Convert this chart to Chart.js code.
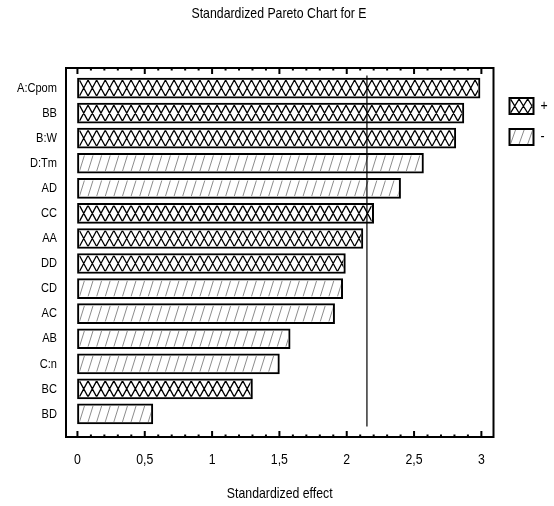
<!DOCTYPE html>
<html>
<head>
<meta charset="utf-8">
<script src="https://cdn.jsdelivr.net/npm/chart.js@4.4.1/dist/chart.umd.min.js"></script>
<style>
  html, body { margin: 0; padding: 0; background: #fff; }
  #wrap { width: 554px; height: 506px; }
</style>
</head>
<body>
<div id="wrap"><canvas id="myChart"></canvas></div>
<script>
// effects (top to bottom)
var factors = ['A:Cpom','BB','B:W','D:Tm','AD','CC','AA','DD','CD','AC','AB','C:n','BC','BD'];
var effects = [2.99, 2.87, 2.81, 2.57, 2.40, 2.20, 2.12, 1.99, 1.97, 1.91, 1.58, 1.50, 1.30, 0.56];
var signs   = ['+','+','+','-','-','+','+','+','-','-','-','-','+','-'];
var xTicks  = [0, 0.5, 1, 1.5, 2, 2.5, 3];
var critical = 2.15;   // reference line

var FONT = "'Liberation Sans', Arial, sans-serif";
var NARROW = 0.82;  // squeeze text, the original uses a condensed face

function pointsFor(sign){
    var out = [];
    for (var i = 0; i < factors.length; i++) {
        if (signs[i] === sign) out.push({x: effects[i], y: i});
    }
    return out;
}

// hatch fills, '+' is a cross hatch, '-' is a light diagonal
function hatch(ctx, kind, l, t, r, b){
    var P = 8.6;
    ctx.save();
    ctx.beginPath();
    ctx.rect(l, t, r - l, b - t);
    ctx.clip();
    ctx.beginPath();
    if (kind === '+') {
        ctx.strokeStyle = '#000';
        ctx.lineWidth = 1.3;
        for (var x = l - P; x < r + P; x += P) {
            ctx.moveTo(x, t); ctx.lineTo(x + P, b);
            ctx.moveTo(x + P, t); ctx.lineTo(x, b);
        }
    } else {
        ctx.strokeStyle = '#8c8c8c';
        ctx.lineWidth = 1;
        for (var x2 = l - P; x2 < r + P; x2 += P) {
            ctx.moveTo(x2, b); ctx.lineTo(x2 + 5, t);
        }
    }
    ctx.stroke();
    ctx.restore();
}

var paretoPlugin = {
    id: 'pareto',
    beforeDraw: function(chart){
        // condensed text: every fillText gets squeezed horizontally
        var ctx = chart.ctx;
        if (ctx._narrow) return;
        var orig = ctx.fillText;
        ctx.fillText = function(t, x, y, mw){
            var w = this.measureText(t).width * NARROW;
            if (mw !== undefined && mw < w) w = mw;
            orig.call(this, t, x, y, w);
        };
        ctx._narrow = true;
    },
    afterDatasetsDraw: function(chart){
        var ctx = chart.ctx, area = chart.chartArea;
        var xs = chart.scales.x, ys = chart.scales.y;
        // hatch inside the bars
        chart.data.datasets.forEach(function(ds, di){
            var meta = chart.getDatasetMeta(di);
            meta.data.forEach(function(el){
                var p = el.getProps(['x','y','base','height'], true);
                var l = Math.min(p.x, p.base), r = Math.max(p.x, p.base);
                var t = p.y - p.height / 2, b = p.y + p.height / 2;
                hatch(ctx, ds.label, l + 2, t + 2, r - 2, b - 2);
            });
        });
        ctx.save();
        // reference line
        var cx = xs.getPixelForValue(critical);
        ctx.strokeStyle = '#000';
        ctx.lineWidth = 1.2;
        ctx.beginPath();
        ctx.moveTo(cx, ys.getPixelForValue(-0.5));
        ctx.lineTo(cx, ys.getPixelForValue(factors.length - 0.5));
        ctx.stroke();
        // frame
        ctx.lineWidth = 2;
        ctx.strokeRect(area.left, area.top, area.right - area.left, area.bottom - area.top);
        // inward ticks, major every 0.5, minor every 0.1
        ctx.beginPath();
        for (var k = 0; k <= 30; k++) {
            var v = k / 10;
            var px = xs.getPixelForValue(v);
            var len = (k % 5 === 0) ? 6 : 2.5;
            ctx.moveTo(px, area.top); ctx.lineTo(px, area.top + len);
            ctx.moveTo(px, area.bottom); ctx.lineTo(px, area.bottom - len);
        }
        ctx.stroke();
        // legend
        var lx = area.right + 16, ly = area.top + 30;
        chart.data.datasets.forEach(function(ds, di){
            var top = ly + di * 31;
            ctx.fillStyle = '#fff';
            ctx.fillRect(lx, top, 24, 16);
            hatch(ctx, ds.label, lx + 1, top + 1, lx + 23, top + 15);
            ctx.lineWidth = 2;
            ctx.strokeStyle = '#000';
            ctx.strokeRect(lx, top, 24, 16);
            ctx.fillStyle = '#000';
            ctx.font = '15px ' + FONT;
            ctx.textBaseline = 'middle';
            ctx.textAlign = 'left';
            ctx.fillText(ds.label, lx + 31, top + 8);
        });
        ctx.restore();
    }
};

var barStyle = {
    backgroundColor: '#fff',
    borderColor: '#000',
    borderWidth: 2,
    borderSkipped: false,
    barThickness: 20,
    grouped: false
};

var data = {
    datasets: [
        Object.assign({label: '+', data: pointsFor('+')}, barStyle),
        Object.assign({label: '-', data: pointsFor('-')}, barStyle)
    ]
};

var config = {
    type: 'bar',
    data: data,
    options: {
        indexAxis: 'y',
        responsive: true,
        maintainAspectRatio: false,
        animation: false,
        layout: { padding: { left: 4, right: 0, top: 0, bottom: 0 } },
        plugins: {
            legend: { display: false },
            tooltip: { enabled: false },
            title: {
                display: true,
                text: 'Standardized Pareto Chart for E',
                color: '#000',
                font: { family: FONT, size: 15, weight: 'normal' },
                padding: { top: 5, bottom: 45 }
            }
        },
        scales: {
            x: {
                type: 'linear',
                min: -0.085,
                max: 3.09,
                offset: false,
                grid: { display: false, drawTicks: false },
                border: { display: false },
                afterBuildTicks: function(scale){
                    scale.ticks = xTicks.map(function(v){ return {value: v}; });
                },
                afterFit: function(scale){ scale.height = 69; },
                ticks: {
                    color: '#000',
                    padding: 14,
                    font: { family: FONT, size: 15 },
                    maxRotation: 0,
                    autoSkip: false,
                    callback: function(v){ return String(v).replace('.', ','); }
                },
                title: {
                    display: true,
                    text: 'Standardized effect',
                    color: '#000',
                    font: { family: FONT, size: 15 },
                    padding: { top: 0, bottom: 3 }
                }
            },
            y: {
                type: 'linear',
                reverse: true,
                min: -0.8,
                max: 13.92,
                offset: false,
                grid: { display: false, drawTicks: false, offset: false },
                border: { display: false },
                afterBuildTicks: function(scale){
                    scale.ticks = factors.map(function(f, i){ return {value: i}; });
                },
                afterFit: function(scale){ scale.width = 62; },
                ticks: {
                    color: '#000',
                    padding: 9,
                    autoSkip: false,
                    font: { family: FONT, size: 13.5 },
                    callback: function(v){ return factors[v]; }
                }
            },
            // empty right axis, keeps room for the legend
            yRight: {
                type: 'linear',
                position: 'right',
                grid: { display: false, drawTicks: false },
                border: { display: false },
                ticks: { display: false },
                afterFit: function(scale){ scale.width = 60.5; }
            }
        }
    },
    plugins: [paretoPlugin]
};

var myChart = new Chart(document.getElementById('myChart'), config);
</script>
</body>
</html>
